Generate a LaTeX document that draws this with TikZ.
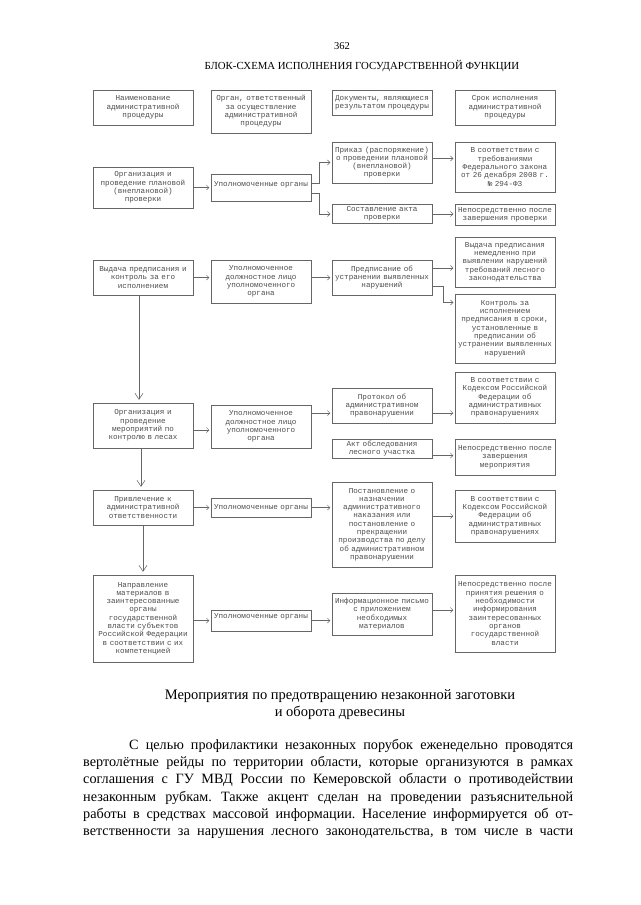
\documentclass[tikz,border=0pt]{standalone}
\usepackage{fontspec}
\setmainfont{Liberation Serif}
\newfontfamily\boxfont{Liberation Mono}
\usepackage{tikz}
\usetikzlibrary{arrows.meta}

\begin{document}
\begin{tikzpicture}[x=1pt,y=-1pt,
	blk/.style={draw=black!60,line width=0.5pt,minimum width=100pt,inner sep=1pt,
		text width=98pt,align=center,text=black!70,
		font=\boxfont\fontsize{7.6}{8.3}\selectfont},
	arr/.style={draw=black!60,line width=0.5pt,shorten >=1.5pt,
		-{Straight Barb[length=2.5pt,width=5pt]}},
	down/.style={draw=black!60,line width=0.5pt,shorten >=3pt,
		-{Straight Barb[length=6pt,width=8pt]}}]
	\useasboundingbox (0,0) rectangle (640,905);

	% page head
	\node[font=\fontsize{10.5}{12}\selectfont] (pg) at (342,46) {362};
	\node[font=\fontsize{10.8}{12}\selectfont] (title) at (362,66) {БЛОК-СХЕМА ИСПОЛНЕНИЯ ГОСУДАРСТВЕННОЙ ФУНКЦИИ};

	% column heads
	\node[blk,minimum height=35pt] (h1) at (143,107.5) {Наименование\\административной\\процедуры};
	\node[blk,minimum height=43pt] (h2) at (261,111.5) {Орган, ответственный\\за осуществление\\административной\\процедуры};
	\node[blk,minimum height=25pt] (h3) at (382,102.5) {Документы, являющиеся\\результатом процедуры};
	\node[blk,minimum height=35pt] (h4) at (505,107.5) {Срок исполнения\\административной\\процедуры};

	% plan / unplanned check
	\node[blk,minimum height=41pt] (a1) at (143,187.5) {Организация и\\проведение плановой\\(внеплановой)\\проверки};
	\node[blk,minimum height=27pt] (a2) at (261,188) {Уполномоченные органы\\~};
	\node[blk,minimum height=41pt] (a3) at (382,162.5) {Приказ (распоряжение)\\о проведении плановой\\(внеплановой)\\проверки};
	\node[blk,minimum height=50pt] (a4) at (505,167) {В соответствии с\\требованиями\\Федерального закона\\от 26 декабря 2008 г.\\№ 294-ФЗ};
	\node[blk,minimum height=19pt] (a5) at (382,214) {Составление акта\\проверки};
	\node[blk,minimum height=21pt] (a6) at (505,214.5) {Непосредственно после\\завершения проверки};
	\draw[arr] (a1.east) -- (a1.east -| a2.west);
	\draw[arr] ([yshift=5pt]a2.east) -- ++(8,0) |- (a3.west);
	\draw[arr] ([yshift=-5pt]a2.east) -- ++(8,0) |- (a5.west);
	\draw[arr] ([yshift=4pt]a3.east) -- ([yshift=4pt]a3.east -| a4.west);
	\draw[arr] (a5.east) -- (a5.east -| a6.west);

	% order
	\node[blk,minimum height=35pt] (b1) at (143,277.5) {Выдача предписания и\\контроль за его\\исполнением};
	\node[blk,minimum height=43pt] (b2) at (261,281.5) {Уполномоченное\\должностное лицо\\уполномоченного\\органа};
	\node[blk,minimum height=35pt] (b3) at (382,277.5) {Предписание об\\устранении выявленных\\нарушений};
	\node[blk,minimum height=50pt] (b4) at (505,262) {Выдача предписания\\немедленно при\\выявлении нарушений\\требований лесного\\законодательства};
	\node[blk,minimum height=69pt] (b5) at (505,328.5) {Контроль за\\исполнением\\предписания в сроки,\\установленные в\\предписании об\\устранении выявленных\\нарушений};
	\draw[arr] (b1.east) -- (b1.east -| b2.west);
	\draw[arr] (b3.west -| b2.east) -- (b3.west);
	\draw[arr] ([yshift=9.5pt]b3.east) -- ([yshift=9.5pt]b3.east -| b4.west);
	\draw[arr] ([yshift=-8.5pt]b3.east) -- ++(11,0) |- ([yshift=26pt]b5.west);

	% forest control
	\node[blk,minimum height=45pt] (c1) at (143,425.5) {Организация и\\проведение\\мероприятий по\\контролю в лесах};
	\node[blk,minimum height=43pt] (c2) at (261,426.5) {Уполномоченное\\должностное лицо\\уполномоченного\\органа};
	\node[blk,minimum height=35pt] (c3) at (382,405.5) {Протокол об\\административном\\правонарушении};
	\node[blk,minimum height=51pt] (c4) at (505,397.5) {В соответствии с\\Кодексом Российской\\Федерации об\\административных\\правонарушениях};
	\node[blk,minimum height=19pt] (c5) at (382,448.5) {Акт обследования\\лесного участка};
	\node[blk,minimum height=36pt] (c6) at (505,457) {Непосредственно после\\завершения\\мероприятия};
	\draw[down] ([xshift=-4pt]b1.south) -- ([xshift=-4pt]c1.north);
	\draw[arr] ([yshift=-4.5pt]c1.east) -- ([yshift=-4.5pt]c1.east -| c2.west);
	\draw[arr] ([yshift=-7.5pt]c3.west -| c2.east) -- ([yshift=-7.5pt]c3.west);
	\draw[arr] ([yshift=-7.5pt]c3.east) -- ([yshift=-7.5pt]c3.east -| c4.west);
	\draw[arr] ([yshift=-7pt]c5.east) -- ([yshift=-7pt]c5.east -| c6.west);

	% liability
	\node[blk,minimum height=35pt] (d1) at (143,507.5) {Привлечение к\\административной\\ответственности};
	\node[blk,minimum height=19pt] (d2) at (261,507.5) {Уполномоченные органы};
	\node[blk,minimum height=85pt] (d3) at (382,524.5) {Постановление о\\назначении\\административного\\наказания или\\постановление о\\прекращении\\производства по делу\\об административном\\правонарушении};
	\node[blk,minimum height=52pt] (d4) at (505,516) {В соответствии с\\Кодексом Российской\\Федерации об\\административных\\правонарушениях};
	\draw[down] ([xshift=-2pt]c1.south) -- ([xshift=-2pt]d1.north);
	\draw[arr] (d1.east) -- (d1.east -| d2.west);
	\draw[arr] (d2.east) -- (d2.east -| d3.west);
	\draw[arr] (d4.west -| d3.east) -- (d4.west);

	% materials
	\node[blk,minimum height=87pt] (e1) at (143,618.5) {Направление\\материалов в\\заинтересованные\\органы\\государственной\\власти субъектов\\Российской Федерации\\в соответствии с их\\компетенцией};
	\node[blk,minimum height=21pt] (e2) at (261,620.5) {Уполномоченные органы\\~};
	\node[blk,minimum height=42pt] (e3) at (382,614) {Информационное письмо\\с приложением\\необходимых\\материалов};
	\node[blk,minimum height=77pt] (e4) at (505,613.5) {Непосредственно после\\принятия решения о\\необходимости\\информирования\\заинтересованных\\органов\\государственной\\власти};
	\draw[down] (d1.south) -- (e1.north);
	\draw[arr] (e2.west -| e1.east) -- (e2.west);
	\draw[arr] (e2.east) -- (e2.east -| e3.west);
	\draw[arr] ([yshift=4pt]e3.east) -- ([yshift=4pt]e3.east -| e4.west);

	% text below
	\node[align=center,inner sep=0pt,anchor=base,font=\fontsize{14.5}{17.5}\selectfont] (head) at (340,716.5)
		{Мероприятия по предотвращению незаконной заготовки\\и оборота древесины};
	\node[text width=490pt,align=justify,inner sep=0pt,anchor=base west,
		font=\fontsize{14.2}{17.35}\selectfont\frenchspacing] (body) at (83,749)
		{\hspace*{46pt}С целью профилактики незаконных порубок еженедельно проводятся\linebreak
		вертолётные рейды по территории области, которые организуются в рамках\linebreak
		соглашения с ГУ МВД России по Кемеровской области о противодействии\linebreak
		незаконным рубкам. Также акцент сделан на проведении разъяснительной\linebreak
		работы в средствах массовой информации. Население информируется об от-\linebreak
		ветственности за нарушения лесного законодательства, в том числе в части{\parfillskip=0pt\par}};
\end{tikzpicture}
\end{document}
